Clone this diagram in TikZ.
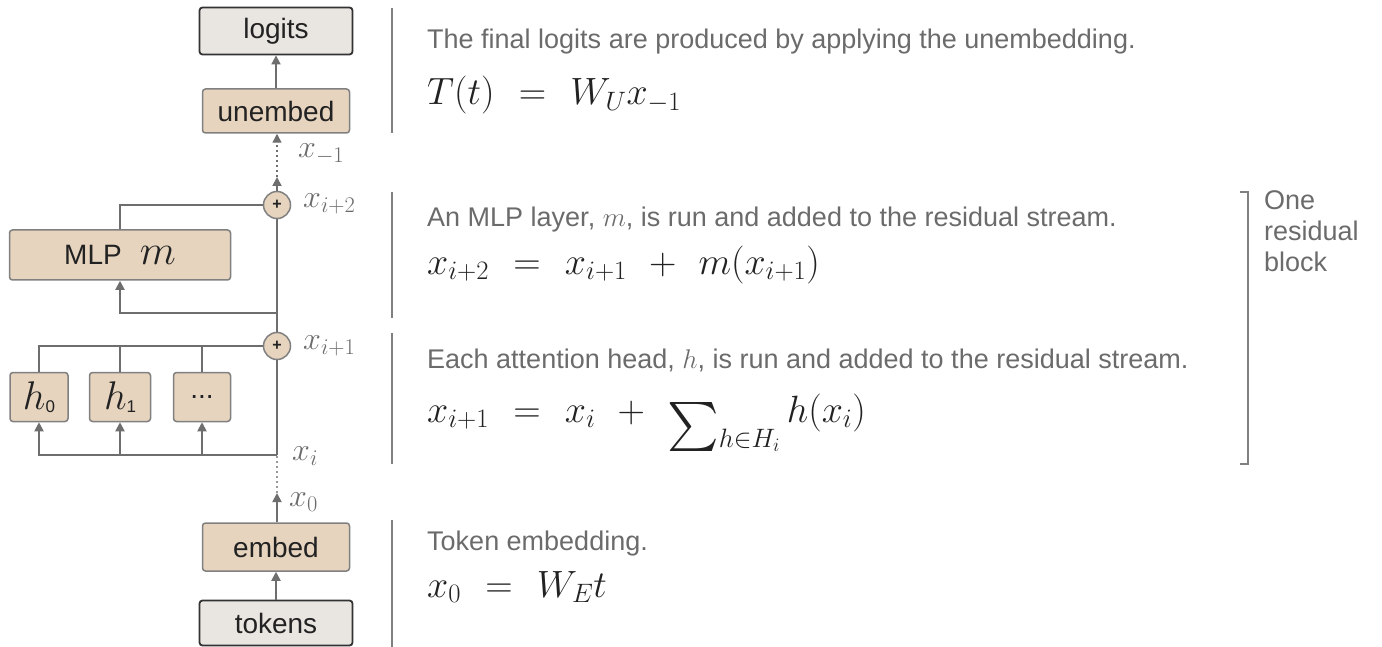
\RequirePackage{fix-cm}
\documentclass[tikz,border=0pt]{standalone}
\usepackage{exscale}
\usepackage{fontspec}
\setmainfont{Liberation Sans}
\usepackage{tikz}
\usetikzlibrary{arrows.meta,positioning,calc}
\definecolor{RSTan}    {HTML}{E6D4BF}
\definecolor{RSPale}   {HTML}{E9E5E1}
\definecolor{RSEdge}   {HTML}{808080}
\definecolor{RSDark}   {HTML}{333333}
\definecolor{RSWire}   {HTML}{6E6E6E}
\definecolor{RSGray}   {HTML}{6B6B6B}
\definecolor{RSInk}    {HTML}{222222}
\newsavebox\sumbox
\newcommand\eqgap{\mkern6.5mu}
\newcommand\bigsum{\sbox\sumbox{\resizebox*{!}{49pt}{$\textstyle\sum$}}%
  \mathop{\raisebox{\dimexpr-29.5pt+\dp\sumbox\relax}[18pt][24pt]{\usebox\sumbox}}\nolimits}
\tikzset{
  tanbox/.style={draw=RSEdge,fill=RSTan,line width=1.5pt,rounded corners=3pt,
                 inner sep=0pt,font=\fontsize{28}{32}\selectfont,text=RSInk},
  palebox/.style={draw=RSDark,fill=RSPale,line width=1.8pt,rounded corners=3pt,
                 inner sep=0pt,font=\fontsize{28}{32}\selectfont,text=RSInk},
  plusnode/.style={circle,draw=RSEdge,fill=RSTan,line width=1.5pt,minimum size=27pt,
                 inner sep=0pt,font=\fontsize{16}{16}\selectfont\bfseries,text=RSInk},
  wire/.style={draw=RSWire,line width=1.8pt},
  arr/.style={wire,-{Triangle[length=9pt,width=9pt]}},
  dotwire/.style={draw=RSWire!70,line width=1.4pt,dash pattern=on 2pt off 3pt},
  xlab/.style={anchor=west,inner sep=0pt,text=RSGray,font=\fontsize{32}{32}\selectfont},
  desc/.style={anchor=base west,inner sep=0pt,text=RSGray,font=\fontsize{27}{31}\selectfont},
  formula/.style={anchor=base west,inner sep=0pt,text=RSInk,font=\fontsize{38}{40}\selectfont},
  sep/.style={draw=RSEdge,line width=1.5pt},
}
\begin{document}
\begin{tikzpicture}[x=1pt,y=-1pt]
  \useasboundingbox (0,0) rectangle (1382,647);
  % left column: boxes
  \node[palebox,minimum width=153pt,minimum height=47pt] (logits)  at (276,31)  {logits};
  \node[tanbox, minimum width=147pt,minimum height=44pt] (unembed) at (276,111) {unembed};
  \node[plusnode] (plustwo) at (277,205) {+};
  \node[plusnode] (plusone) at (277,346) {+};
  \node[tanbox, minimum width=221pt,minimum height=50pt] (mlp) at (120,255)
    {MLP\hspace{18pt}{\fontsize{42}{42}\selectfont$m$}};
  \node[tanbox, minimum width=58pt,minimum height=49pt] (hzero) at (39,397)
    {{\fontsize{40}{40}\selectfont$h$}\raisebox{-3pt}{\fontsize{17}{17}\selectfont 0}};
  \node[tanbox, minimum width=61pt,minimum height=49pt] (hone) at (120,397)
    {{\fontsize{40}{40}\selectfont$h$}\raisebox{-3pt}{\fontsize{17}{17}\selectfont 1}};
  \node[tanbox, minimum width=57pt,minimum height=49pt] (hdots) at (202,397) {...};
  \node[tanbox, minimum width=147pt,minimum height=48pt] (embed)  at (276,547) {embed};
  \node[palebox,minimum width=153pt,minimum height=45pt] (tokens) at (276,623) {tokens};
  % points on the residual stream
  \coordinate (xzero) at (277,493);
  \coordinate (xi)    at (277,455);
  \coordinate (fork)  at (277,313);
  \coordinate (xtop)  at (277,177);
  % residual stream
  \draw[arr] (tokens) -- (embed);
  \draw[arr] (embed.north -| xzero) -- (xzero);
  \draw[dotwire] (xzero) -- (xi);
  \draw[wire] (xi) -- (plusone);
  \draw[wire] (plusone) -- (plustwo);
  \draw[arr] (plustwo) -- (xtop);
  \draw[dotwire,-{Triangle[length=9pt,width=9pt]},RSWire] (xtop) -- (unembed.south -| xtop);
  \draw[arr] (unembed) -- (logits);
  % attention heads
  \foreach \h in {hzero,hone,hdots} {
    \draw[arr] (xi) -| (\h.south);
    \draw[wire] (\h.north) |- (plusone);
  }
  % mlp
  \draw[arr] (fork) -| (mlp.south);
  \draw[wire] (mlp.north) |- (plustwo);
  % stream labels
  \node[xlab] (lminus) at (298,154) {$x_{-1}$};
  \node[xlab] (ltwo)   at (303,204) {$x_{i+2}$};
  \node[xlab] (lone)   at (303,346) {$x_{i+1}$};
  \node[xlab] (li)     at (292,456) {$x_i$};
  \node[xlab] (lzero)  at (289,502) {$x_0$};
  % separators
  \draw[sep] (392,8) -- (392,133);
  \draw[sep] (392,192) -- (392,318);
  \draw[sep] (392,333) -- (392,464);
  \draw[sep] (392,520) -- (392,647);
  % descriptions
  \node[desc] (dunembed) at (427,49) {The final logits are produced by applying the unembedding.};
  \node[formula] (funembed) at (427,105) {$T(t) \eqgap=\eqgap W_U x_{-1}$};
  \node[desc] (dmlp) at (427,227) {An MLP layer, $m$, is run and added to the residual stream.};
  \node[formula] (fmlp) at (427,274) {$x_{i+2} \eqgap=\eqgap x_{i+1} \eqgap+\eqgap m(x_{i+1})$};
  \node[desc] (dattn) at (427,368) {Each attention head, $h$, is run and added to the residual stream.};
  \node[formula] (fattn) at (427,422) {$x_{i+1} \eqgap=\eqgap x_i \eqgap+\eqgap \bigsum_{h\in H_i} h(x_i)$};
  \node[desc] (dembed) at (427,550) {Token embedding.};
  \node[formula] (fembed) at (427,597) {$x_0 \eqgap=\eqgap W_E t$};
  % residual block bracket
  \draw[sep] (1240,192) -- (1248,192) -- (1248,464) -- (1240,464);
  \node[anchor=north west,inner sep=0pt,align=left,text=RSGray,
        font=\fontsize{27}{31}\selectfont] (block) at (1264,190) {One\\residual\\block};
\end{tikzpicture}
\end{document}
